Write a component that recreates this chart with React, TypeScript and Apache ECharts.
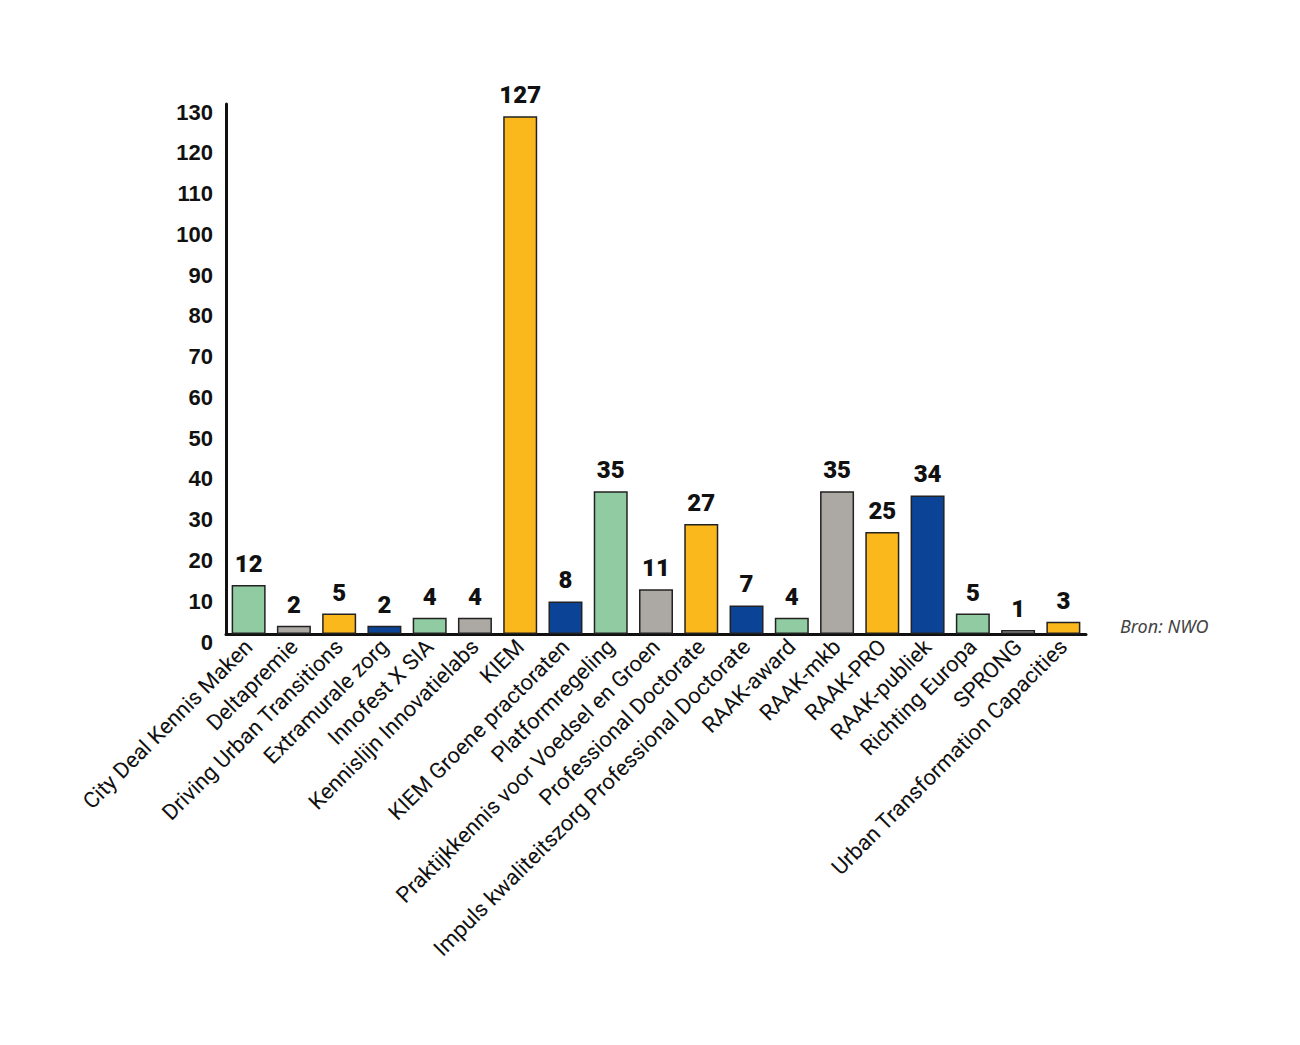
import React, { useEffect, useRef } from "react";
import * as echarts from "echarts";

const categories = [
  "City Deal Kennis Maken",
  "Deltapremie",
  "Driving Urban Transitions",
  "Extramurale zorg",
  "Innofest X SIA",
  "Kennislijn Innovatielabs",
  "KIEM",
  "KIEM Groene practoraten",
  "Platformregeling",
  "Praktijkkennis voor Voedsel en Groen",
  "Professional Doctorate",
  "Impuls kwaliteitszorg Professional Doctorate",
  "RAAK-award",
  "RAAK-mkb",
  "RAAK-PRO",
  "RAAK-publiek",
  "Richting Europa",
  "SPRONG",
  "Urban Transformation Capacities",
];

const values = [12, 2, 5, 2, 4, 4, 127, 8, 35, 11, 27, 7, 4, 35, 25, 34, 5, 1, 3];

const palette = ["#90cba1", "#aca8a3", "#fbb81d", "#0b4496"];

const yMin = 0;
const yMax = 130;
const yInterval = 10;

const sourceText = "Bron: NWO";

export default function App() {
  const ref = useRef<HTMLDivElement>(null);

  useEffect(() => {
    if (!ref.current) return;
    const chart = echarts.init(ref.current, undefined, { renderer: "svg" });
    chart.setOption({
      animation: false,
      backgroundColor: "#ffffff",
      grid: { left: 226, right: 214, top: 104, bottom: 411, containLabel: false },
      xAxis: {
        type: "category",
        data: categories,
        boundaryGap: true,
        axisLine: { show: true, lineStyle: { color: "#111", width: 3 } },
        axisTick: { show: false },
        axisLabel: {
          interval: 0,
          rotate: 45,
          margin: 9,
          fontFamily: "Roboto",
          fontSize: 22,
          color: "#111",
        },
      },
      yAxis: {
        type: "value",
        min: yMin,
        max: yMax,
        interval: yInterval,
        axisLine: { show: true, lineStyle: { color: "#111", width: 3 } },
        axisTick: { show: false },
        splitLine: { show: false },
        axisLabel: {
          margin: 13,
          fontFamily: "Liberation Sans",
          fontWeight: "bold",
          fontSize: 22,
          color: "#111",
          verticalAlign: "top",
          lineHeight: 16,
        },
      },
      series: [
        {
          type: "bar",
          barWidth: 34,
          data: values.map((v, i) => ({
            value: v,
            itemStyle: { color: palette[i % palette.length] },
          })),
          itemStyle: { borderColor: "#222", borderWidth: 1.5 },
          label: {
            show: true,
            position: "top",
            distance: 9,
            fontFamily: "Roboto",
            fontWeight: 900,
            fontSize: 24,
            color: "#111",
          },
        },
      ],
      graphic: [
        {
          type: "text",
          left: 1120,
          top: 617,
          style: {
            text: sourceText,
            fontFamily: "Noto Sans",
            fontStyle: "italic",
            fontSize: 18,
            fill: "#444",
          },
        },
      ],
    });
    return () => chart.dispose();
  }, []);

  return (
    <div
      ref={ref}
      style={{ position: "absolute", left: 0, top: 0, width: 1300, height: 1045 }}
    />
  );
}
